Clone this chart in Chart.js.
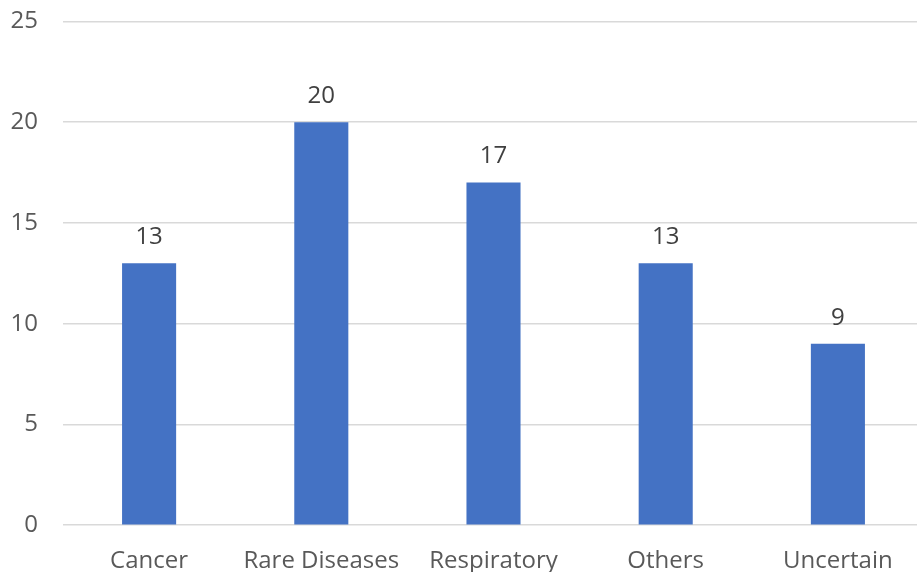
<!DOCTYPE html>
<html>
<head>
<meta charset="utf-8">
<script src="https://cdn.jsdelivr.net/npm/chart.js@4"></script>
<style>
  html, body { margin: 0; padding: 0; background: #fff; overflow: hidden; }
  #wrap { position: absolute; left: 0; top: -18px; width: 924px; height: 608px; }
</style>
</head>
<body>
<div id="wrap"><canvas id="barChart"></canvas></div>
<script>
const categories = ['Cancer', 'Rare Diseases', 'Respiratory', 'Others', 'Uncertain'];
const counts = [13, 20, 17, 13, 9];

// draws the value above each bar
const valueLabels = {
    id: 'valueLabels',
    afterDatasetsDraw(chart) {
        const ctx = chart.ctx;
        const meta = chart.getDatasetMeta(0);
        ctx.save();
        ctx.font = '24px "Open Sans"';
        ctx.fillStyle = '#404040';
        ctx.textAlign = 'center';
        ctx.textBaseline = 'middle';
        meta.data.forEach((bar, i) => {
            ctx.fillText(String(counts[i]), bar.x, bar.y - 26);
        });
        ctx.restore();
    }
};

const ctx = document.getElementById('barChart').getContext('2d');
new Chart(ctx, {
    type: 'bar',
    data: {
        labels: categories,
        datasets: [{
            data: counts,
            backgroundColor: '#4472C4',
            borderWidth: 0,
            barPercentage: 0.314,
            categoryPercentage: 1
        }]
    },
    options: {
        responsive: true,
        maintainAspectRatio: false,
        animation: false,
        layout: { padding: 0 },
        plugins: {
            legend: { display: false },
            tooltip: { enabled: false }
        },
        scales: {
            x: {
                grid: { display: false },
                border: { display: false },
                ticks: { color: '#595959', font: { family: 'Open Sans', size: 24 }, padding: 14 }
            },
            y: {
                min: 0,
                max: 25,
                ticks: { stepSize: 5, color: '#595959', font: { family: 'Open Sans', size: 24 }, padding: 25 },
                grid: { color: '#d9d9d9', lineWidth: 1.5, drawTicks: false },
                border: { display: false },
                afterFit(scale) { scale.width = 63; }
            }
        }
    },
    plugins: [valueLabels]
});
</script>
</body>
</html>
